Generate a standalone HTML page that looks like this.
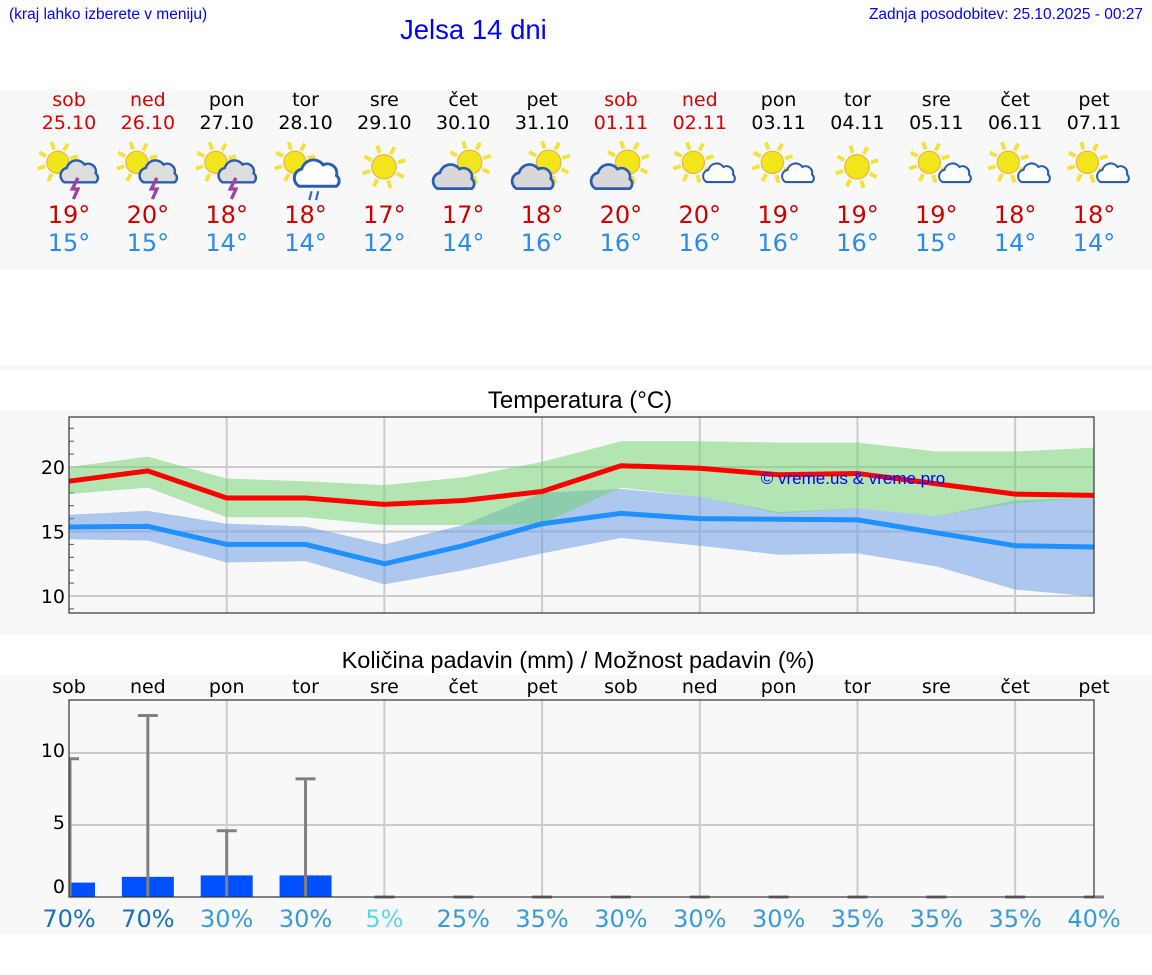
<!DOCTYPE html>
<html><head><meta charset="utf-8">
<style>
body{margin:0;width:1152px;height:975px;background:#fff;font-family:"DejaVu Sans","Liberation Sans",sans-serif;position:relative;overflow:hidden}
.abs{position:absolute}
.band{position:absolute;left:0;width:1152px;background:#f8f8f8}
.day{position:absolute;width:80px;text-align:center;font-size:19px}
</style></head><body>
<div class="abs" style="left:9px;top:6px;font-size:15.5px;color:#00f;font-family:'Liberation Sans',sans-serif">(kraj lahko izberete v meniju)</div>
<div class="abs" style="left:400px;top:14px;font-size:27.5px;color:#00f;font-family:'Liberation Sans',sans-serif">Jelsa 14 dni</div>
<div class="abs" style="right:9px;top:6px;font-size:15.5px;color:#00f;font-family:'Liberation Sans',sans-serif">Zadnja posodobitev: 25.10.2025 - 00:27</div>
<div class="band" style="top:90px;height:180px"></div>
<div class="band" style="top:365px;height:5px"></div>
<div class="band" style="top:410px;height:225px"></div>
<div class="band" style="top:675px;height:260px"></div>
<div id="days"></div>
<svg id="temp" class="abs" style="left:0;top:380px" width="1152" height="260"></svg>
<svg id="prec" class="abs" style="left:0;top:640px" width="1152" height="300"></svg>
<script>
const dayNames=["sob","ned","pon","tor","sre","čet","pet","sob","ned","pon","tor","sre","čet","pet"];
const dates=["25.10","26.10","27.10","28.10","29.10","30.10","31.10","01.11","02.11","03.11","04.11","05.11","06.11","07.11"];
const weekend=[1,1,0,0,0,0,0,1,1,0,0,0,0,0];
const icons=["storm","storm","storm","rain","sun","cloudsun","cloudsun","cloudsun","suncloud","suncloud","sun","suncloud","suncloud","suncloud"];
const maxT=[19,20,18,18,17,17,18,20,20,19,19,19,18,18];
const minT=[15,15,14,14,12,14,16,16,16,16,16,15,14,14];
const tMax=[18.9,19.7,17.6,17.6,17.1,17.4,18.1,20.1,19.9,19.4,19.5,18.7,17.9,17.8];
const tMaxHi=[20,20.8,19.1,18.9,18.6,19.2,20.4,22,22,21.9,21.9,21.2,21.2,21.5];
const tMaxLo=[17.9,18.4,16.1,16.1,15.5,15.5,15.6,18.4,17.7,16.4,16.8,16.2,17.2,17.6];
const tMin=[15.35,15.4,14.0,14.0,12.5,13.9,15.6,16.4,16.0,15.95,15.9,14.9,13.9,13.8];
const tMinHi=[16.3,16.6,15.6,15.4,14.0,15.5,18.0,18.3,17.7,16.5,16.8,16.2,17.4,17.6];
const tMinLo=[14.4,14.3,12.6,12.7,10.9,12.0,13.3,14.5,13.9,13.2,13.3,12.3,10.5,9.95];
const precip=[1.0,1.4,1.5,1.5,0,0,0,0,0,0,0,0,0,0];
const precipMax=[9.6,12.6,4.6,8.2,0,0,0,0,0,0,0,0,0,0];
const chance=[70,70,30,30,5,25,35,30,30,30,35,35,35,40];
const tempTicks=[10,15,20];
const precTicks=[0,5,10];
const NS="http://www.w3.org/2000/svg";
const X0=69,X1=1094,n=14;
const x=i=>X0+i*(X1-X0)/(n-1);
function el(p,t,a){const e=document.createElementNS(NS,t);for(const k in a)e.setAttribute(k,a[k]);p.appendChild(e);return e;}
function sun(cx,cy,r){let s='';for(let k=0;k<8;k++){const a=k*Math.PI/4-0.3;s+=`<line x1="${cx+Math.cos(a)*(r+2)}" y1="${cy+Math.sin(a)*(r+2)}" x2="${cx+Math.cos(a)*(r+9)}" y2="${cy+Math.sin(a)*(r+9)}" stroke="#f2e23a" stroke-width="3.5"/>`;}
return s+`<circle cx="${cx}" cy="${cy}" r="${r}" fill="#f1e61c" stroke="#f0b040" stroke-width="1"/>`;}
function cloud(cx,cy,s,fill){return `<path d="M${cx-14*s},${cy+8*s} a7 7 0 0 1 2,-13 a9 9 0 0 1 16,-3 a7 7 0 0 1 10,8 a5 5 0 0 1 0,8 z" fill="${fill}" stroke="#2a5db0" stroke-width="2.2" transform="translate(${cx},${cy}) scale(${s}) translate(${-cx},${-cy})"/>`;}
function icon(t){
 if(t=="sun")return sun(40,26,11);
 if(t=="storm")return sun(30,22,10)+cloud(50,32,1,"#ddd")+'<path d="M48,36 l-5,10 h5 l-4,9" stroke="#a040a0" stroke-width="3" fill="none"/>';
 if(t=="rain")return sun(30,22,10)+cloud(54,32,1.2,"#fff")+'<path d="M45,48 l-2,8 M51,48 l-2,8" stroke="#3a6ab0" stroke-width="2"/>';
 if(t=="cloudsun")return sun(46,22,11)+cloud(34,36,1.1,"#d8d8d8");
 return sun(34,22,10)+cloud(56,34,0.85,"#fff");
}
const dd=document.getElementById('days');
for(let i=0;i<n;i++){
 const c=weekend[i]?"#d00":"#000";
 const d=document.createElement('div');d.className='day';d.style.left=(x(i)-40)+'px';d.style.top='89px';
 
 
 d.innerHTML=`<div style="color:${c};line-height:23px">${dayNames[i]}</div><div style="color:${c};line-height:22px">${dates[i]}</div>`+
 `<svg width="80" height="66" viewBox="4 0 72 56" style="display:block;margin-top:2px">${icon(icons[i])}</svg>`+
 `<div style="color:#c00;font-size:24px;line-height:28px;margin-top:-1px">${maxT[i]}°</div><div style="color:#2c8be8;font-size:24px;line-height:28px">${minT[i]}°</div>`;
 dd.appendChild(d);
}
const T=document.getElementById('temp');
const PT=417-380,PB=613-380;
const ty=v=>467-380-(v-20)*12.9;
el(T,'text',{x:580,y:28,'text-anchor':'middle','font-size':24,fill:'#000','font-family':'Liberation Sans,sans-serif'}).textContent="Temperatura (°C)";
el(T,'rect',{x:X0,y:PT,width:X1-X0,height:PB-PT,fill:'#f8f8f8'});
for(let i=2;i<n;i+=2)el(T,'line',{x1:x(i),x2:x(i),y1:PT,y2:PB,stroke:'#ccc','stroke-width':2});
for(let v=9;v<=23;v++){el(T,'line',{x1:X0,x2:X0+5,y1:ty(v),y2:ty(v),stroke:'#555'});}
tempTicks.forEach(v=>{el(T,'line',{x1:X0,x2:X1,y1:ty(v),y2:ty(v),stroke:'#ccc','stroke-width':2});
 const t=el(T,'text',{x:X0-4,y:ty(v)+7,'text-anchor':'end','font-size':19});t.textContent=v;});
function band(hi,lo,col,name){let d='M'+hi.map((v,i)=>x(i)+','+ty(v)).join('L')+'L'+lo.map((v,i)=>x(i)+','+ty(v)).reverse().join('L')+'Z';
 const p=el(T,'path',{d,fill:col});}
band(tMinHi,tMinLo,'rgba(100,150,230,0.5)','min-temp-range');
band(tMaxHi,tMaxLo,'rgba(110,210,110,0.5)','max-temp-range');
function line(v,col,name){const p=el(T,'polyline',{points:v.map((a,i)=>x(i)+','+ty(a)).join(' '),fill:'none',stroke:col,'stroke-width':5});}
line(tMax,'#f00','max-temp-line');line(tMin,'#1e90ff','min-temp-line');
el(T,'text',{x:853,y:104,'text-anchor':'middle','font-size':17,fill:'#00f','font-family':'Liberation Sans,sans-serif'}).textContent="© vreme.us & vreme.pro";
el(T,'rect',{x:X0,y:PT,width:X1-X0,height:PB-PT,fill:'none',stroke:'#333','stroke-width':1.2});
const P=document.getElementById('prec');
const QT=700-640,QB=897-640;
const py=v=>QB-v*14.4;
el(P,'text',{x:578,y:28,'text-anchor':'middle','font-size':23.5,'font-family':'Liberation Sans,sans-serif'}).textContent="Količina padavin (mm) / Možnost padavin (%)";
for(let i=0;i<n;i++){const t=el(P,'text',{x:x(i),y:53,'text-anchor':'middle','font-size':19});t.textContent=dayNames[i];}
el(P,'rect',{x:X0,y:QT,width:X1-X0,height:QB-QT,fill:'#f8f8f8'});
for(let i=2;i<n;i+=2)el(P,'line',{x1:x(i),x2:x(i),y1:QT,y2:QB,stroke:'#ccc','stroke-width':2});
precTicks.forEach(v=>{if(v>0)el(P,'line',{x1:X0,x2:X1,y1:py(v),y2:py(v),stroke:'#ccc','stroke-width':2});
 const t=el(P,'text',{x:X0-4,y:py(v)+(v?4:-4),'text-anchor':'end','font-size':19});t.textContent=v;});
for(let i=0;i<n;i++){
 const bx=Math.max(X0,x(i)-26),bw=x(i)+26-bx;
 if(precip[i]>0){const r=el(P,'rect',{x:bx,y:py(precip[i]),width:bw,height:QB-py(precip[i]),fill:'#0050ff'});}
 const cx=Math.max(X0+1,x(i));
 const e=el(P,'line',{x1:cx,x2:cx,y1:py(precipMax[i]),y2:QB,stroke:'#808080','stroke-width':3});
 el(P,'line',{x1:Math.max(X0,x(i)-10),x2:x(i)+10,y1:py(precipMax[i]),y2:py(precipMax[i]),stroke:'#808080','stroke-width':3});
 const c=chance[i]>=50?'#1a6fc0':chance[i]<10?'#5ad8e8':'#3a9ad9';
 const t=el(P,'text',{x:x(i),y:287,'text-anchor':'middle','font-size':24,fill:c});t.textContent=chance[i]+'%';
}
el(P,'rect',{x:X0,y:QT,width:X1-X0,height:QB-QT,fill:'none',stroke:'#333','stroke-width':1.2});
</script>
</body></html>
